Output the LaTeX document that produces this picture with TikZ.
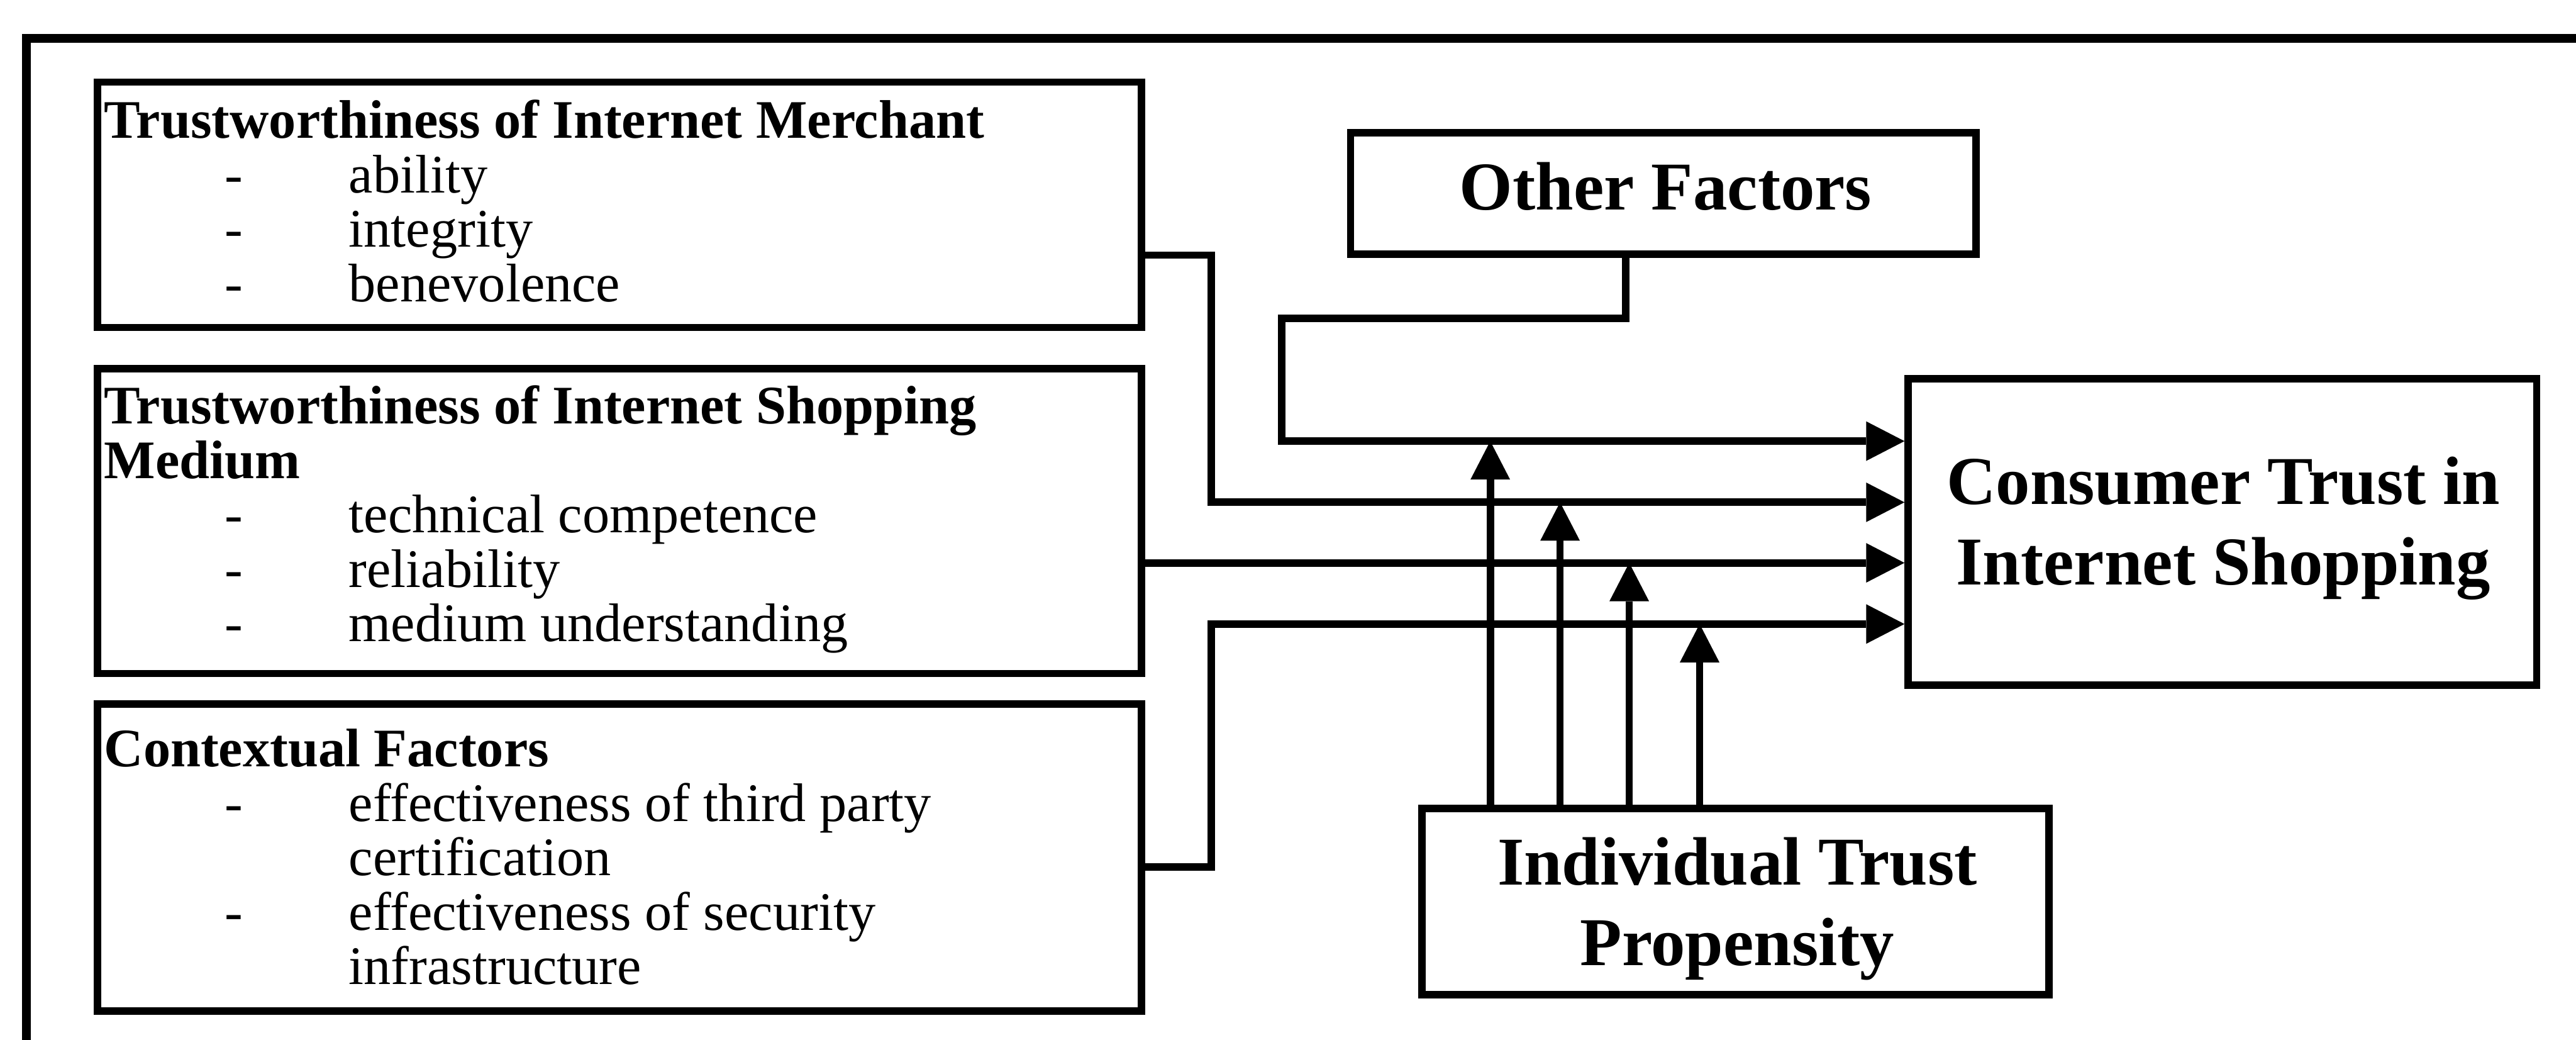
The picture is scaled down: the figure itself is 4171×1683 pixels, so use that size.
\documentclass[tikz,border=0pt]{standalone}
\usepackage{fontspec}
\setmainfont{Liberation Serif}
\usetikzlibrary{arrows.meta}
% one item of a factor list: dash, then its text
\newcommand\bulletline[1]{\hspace*{1.95cm}\makebox[2.01cm][l]{-}#1}
% continuation line of an item
\newcommand\wrapline[1]{\hspace*{3.96cm}#1}
\begin{document}
\begin{tikzpicture}[x=0.01cm,y=-0.01cm,
  box/.style={draw, line width=0.12cm, inner sep=0pt, rectangle},
  link/.style={line width=0.12cm},
  arr/.style={link, -{Triangle[length=0.62cm,width=0.64cm,line width=0pt]}},
  frame/.style={line width=0.14cm},
  listtext/.style={font=\fontsize{25pt}{25.04pt}\selectfont, inner sep=0pt, anchor=base west},
  bigtext/.style={font=\fontsize{31.5pt}{37pt}\selectfont\bfseries, inner sep=0pt, anchor=base},
]
\useasboundingbox (0,0) rectangle (4171,1683);

% outer frame (top and left edges)
\draw[frame] (4171,62) -- (43,62) -- (43,1683);

% boxes
\node[box, minimum width=16.9cm,  minimum height=3.97cm] (merchant) at (1003,331.5) {};
\node[box, minimum width=16.9cm,  minimum height=4.93cm] (medium)   at (1003,843.5) {};
\node[box, minimum width=16.9cm,  minimum height=4.96cm] (context)  at (1003,1388) {};
\node[box, minimum width=10.12cm, minimum height=1.96cm] (other)    at (2693,313) {};
\node[box, minimum width=10.17cm, minimum height=4.96cm] (cons)     at (3598.5,861) {};
\node[box, minimum width=10.14cm, minimum height=3.01cm] (indiv)    at (2810,1459.5) {};

% factor lists
\node[listtext] (merchantText) at (168,224) {\parbox[t]{16cm}{\raggedright
  \textbf{Trustworthiness of Internet Merchant}\\
  \bulletline{ability}\\
  \bulletline{integrity}\\
  \bulletline{benevolence}}};
\node[listtext] (mediumText) at (168,686) {\parbox[t]{16cm}{\raggedright
  \textbf{Trustworthiness of Internet Shopping}\\
  \textbf{Medium}\\
  \bulletline{technical competence}\\
  \bulletline{reliability}\\
  \bulletline{medium understanding}}};
\node[listtext] (contextText) at (168,1241) {\parbox[t]{16cm}{\raggedright
  \textbf{Contextual Factors}\\
  \bulletline{effectiveness of third party}\\
  \wrapline{certification}\\
  \bulletline{effectiveness of security}\\
  \wrapline{infrastructure}}};

% labels of the right-hand boxes
\node[bigtext] (otherText) at (2697,340) {Other Factors};
\node[bigtext] (consText) at (3600,816) {\parbox[t]{10cm}{\centering Consumer Trust in\\Internet Shopping}};
\node[bigtext] (indivText) at (2813,1432) {\parbox[t]{10cm}{\centering Individual Trust\\Propensity}};

% routing points
\coordinate (jM) at (1961,413);
\coordinate (jC) at (1961,1403);
\coordinate (oOut) at (2632,411);
\coordinate (jO) at (2075,515);
\coordinate (l1) at (2413,714);
\coordinate (l2) at (2526,813);
\coordinate (l3) at (2638,911);
\coordinate (l4) at (2752,1010);

% antecedents into consumer trust
\draw[arr] (other.south -| oOut) |- (jO) |- (cons.west |- l1);
\draw[arr] (merchant.east |- jM) -- (jM) |- (cons.west |- l2);
\draw[arr] (medium.east |- l3) -- (cons.west |- l3);
\draw[arr] (context.east |- jC) -- (jC) |- (cons.west |- l4);

% moderating effect of trust propensity
\foreach \k in {1,...,4}
  \draw[arr] (indiv.north -| l\k) -- (l\k);
\end{tikzpicture}
\end{document}
